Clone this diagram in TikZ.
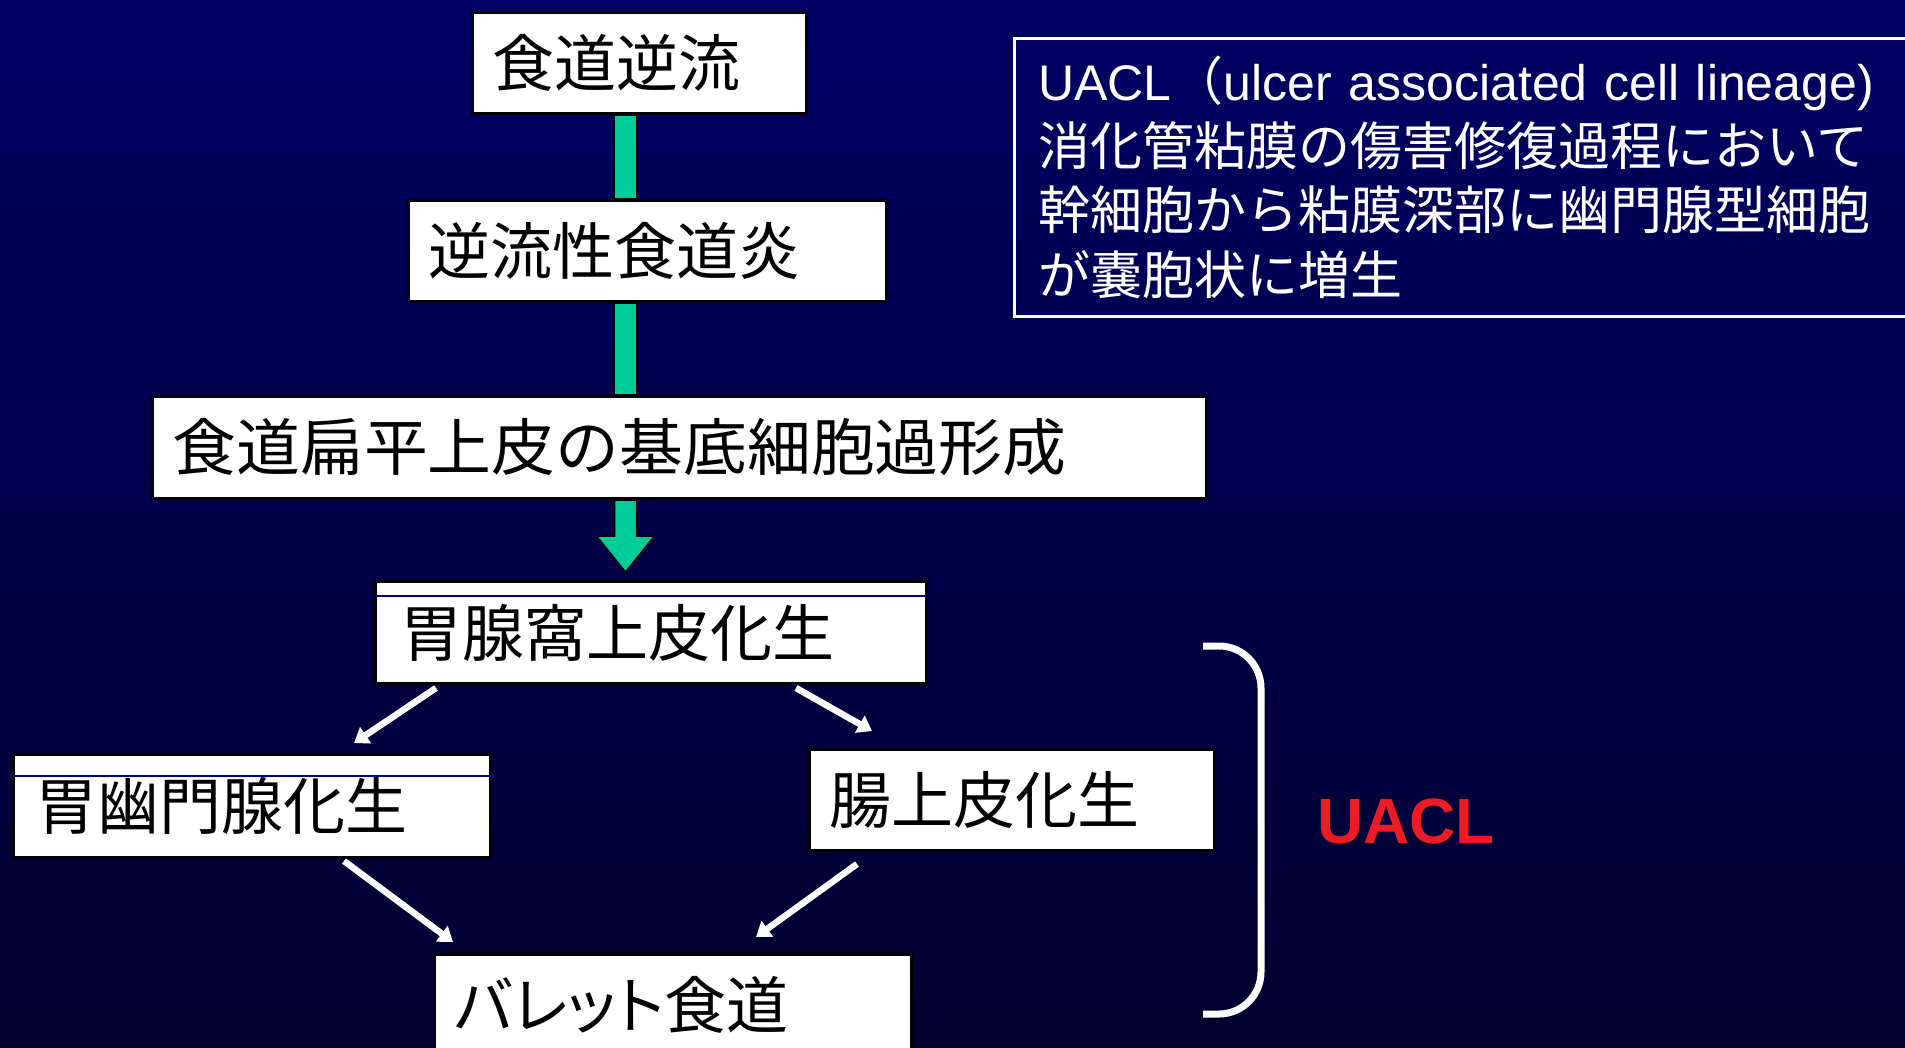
\documentclass[tikz,border=0pt]{standalone}
\usepackage{fontspec}
\usepackage{graphicx}
\setmainfont{Liberation Sans}
\newfontfamily\jp{Noto Sans CJK JP}
\newfontfamily\jpp[RawFeature=+palt]{Noto Sans CJK JP}
\usetikzlibrary{arrows.meta,calc}
\definecolor{bgtop}{RGB}{0,0,100}
\definecolor{bgbot}{RGB}{0,0,46}
\definecolor{bargreen}{RGB}{0,204,153}
\definecolor{uaclred}{RGB}{237,28,36}
\definecolor{navyline}{RGB}{0,0,120}
\begin{document}
\begin{tikzpicture}[x=1pt,y=-1pt,
  box/.style={draw=black, fill=white, line width=3, anchor=north west,
    inner ysep=0, inner xsep=20, align=left,
    font=\jp\fontsize{62}{70}\selectfont},
  greenbar/.style={fill=bargreen, draw=black, line width=1.5},
  warrow/.style={draw=white, line width=6.5, -{Triangle[length=14,width=19]}},
  thinline/.style={draw=navyline, line width=1.3}]
\useasboundingbox (0,0) rectangle (1905,1047);
\shade[top color=bgtop, bottom color=bgbot] (0,0) rectangle (1905,1047);

% boxes
\node[box, text width=294, minimum height=101] (b1) at (471,11) {食道逆流};
\node[box, text width=438, minimum height=101] (b2) at (407,199) {逆流性食道炎};
\node[box, text width=1014, minimum height=102] (b3) at (151,395) {\scalebox{1.03}[1]{食道扁平上皮の基底細胞過形成}};
\node[box, inner xsep=25, text width=501, minimum height=102] (b4) at (374,580) {胃腺窩上皮化生};
\node[box, inner xsep=22, text width=433, minimum height=103] (b5) at (12,753) {胃幽門腺化生};
\node[box, text width=365, minimum height=101] (b6) at (808,748) {腸上皮化生};
\node[box, text width=437, minimum height=100] (b7) at (433,953) {\jpp バレット食道};

% thin lines inside boxes
\draw[thinline] ($(b4.north west)+(1.5,16)$) -- ($(b4.north east)+(-1.5,16)$);
\draw[thinline] ($(b5.north west)+(1.5,23)$) -- ($(b5.north east)+(-1.5,23)$);

% green connectors
\coordinate (barx) at (625.5,0);
\filldraw[greenbar] ($(barx |- b1.south)+(-11,0)$) rectangle ($(barx |- b2.north)+(11,0)$);
\filldraw[greenbar] ($(barx |- b2.south)+(-11,0)$) rectangle ($(barx |- b3.north)+(11,0)$);
\filldraw[greenbar] ($(barx |- b3.south)+(-11,0)$) -- ($(barx |- b3.south)+(-11,36)$)
  -- ($(barx |- b3.south)+(-29,36)$) -- ($(barx |- b3.south)+(0,72)$)
  -- ($(barx |- b3.south)+(29,36)$) -- ($(barx |- b3.south)+(11,36)$)
  -- ($(barx |- b3.south)+(11,0)$) -- cycle;

% white arrows
\coordinate (a1s) at (436,688); \coordinate (a1e) at (354,743);
\coordinate (a2s) at (796,688); \coordinate (a2e) at (872,731);
\coordinate (a3s) at (344,861); \coordinate (a3e) at (453,942);
\coordinate (a4s) at (857,864); \coordinate (a4e) at (756,937);
\draw[warrow] (a1s) -- (a1e);
\draw[warrow] (a2s) -- (a2e);
\draw[warrow] (a3s) -- (a3e);
\draw[warrow] (a4s) -- (a4e);

% bracket
\coordinate (brt) at (1203,646);
\coordinate (brb) at (1203,1014);
\draw[white, line width=7, rounded corners=42] (brt) -- (1261,646) -- (1261,1014) -- (brb);

% red label
\node[anchor=base, text=uaclred, inner sep=0, font=\bfseries\fontsize{64}{70}\selectfont] (uacl) at (1406,843) {UACL};

% info box
\node[draw=white, line width=2.5, anchor=north west, text width=870, inner xsep=24,
  inner ysep=0, minimum height=278, align=left, text=white,
  font=\fontsize{50}{64.5}\selectfont] (info) at (1013,37)
  {UACL{\jp\fontsize{52}{64.5}\selectfont （}ulcer associated cell lineage)\\
   \jp\fontsize{52}{64.5}\selectfont 消化管粘膜の傷害修復過程において\\
   幹細胞から粘膜深部に幽門腺型細胞\\
   が嚢胞状に増生};
\end{tikzpicture}
\end{document}
